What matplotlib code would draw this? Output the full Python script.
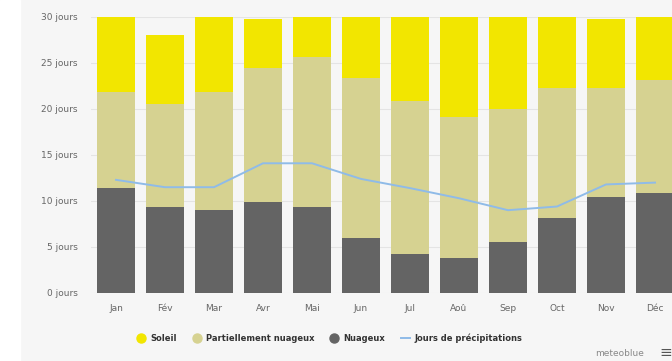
import numpy as np
import matplotlib.pyplot as plt
from matplotlib.lines import Line2D
from matplotlib.patches import Rectangle

months = ["Jan", "Fév", "Mar", "Avr", "Mai", "Jun", "Jul", "Aoû", "Sep", "Oct", "Nov", "Déc"]
totals = [31, 28, 31, 29.8, 31, 30, 31, 31, 30, 31, 29.8, 31]
nuageux = [11.4, 9.4, 9.0, 9.9, 9.4, 6.0, 4.2, 3.8, 5.5, 8.2, 10.4, 10.9]
partiel_top = [21.8, 20.5, 21.8, 24.5, 25.7, 23.4, 20.9, 19.1, 20.0, 22.3, 22.3, 23.2]
precip = [12.3, 11.5, 11.5, 14.1, 14.1, 12.4, 11.4, 10.3, 9.0, 9.4, 11.8, 12.0]
y_ticks = [0, 5, 10, 15, 20, 25, 30]

partiel = np.array(partiel_top) - np.array(nuageux)
soleil = np.array(totals) - np.array(partiel_top)

c_sun = "#f2e600"
c_part = "#d6d291"
c_cloud = "#646464"
c_line = "#8fbbe8"

fig = plt.figure(figsize=(6.72, 3.61), dpi=100, facecolor="#f6f6f6")
fig.patches.append(Rectangle((0, 0), 20 / 672, 1, transform=fig.transFigure,
                             color="white", zorder=0))
ax = fig.add_axes([91.5 / 672, 68 / 361, 588 / 672, 276 / 361])
ax.set_facecolor("#f6f6f6")

x = np.arange(len(months))
w = 0.78
ax.bar(x, nuageux, w, color=c_cloud, zorder=2)
ax.bar(x, partiel, w, bottom=nuageux, color=c_part, zorder=2)
ax.bar(x, soleil, w, bottom=partiel_top, color=c_sun, zorder=2)
ax.plot(x, precip, color=c_line, lw=1.4, zorder=3)

ax.set_xlim(-0.5, 11.5)
ax.set_ylim(0, 30)
ax.set_yticks(y_ticks)
ax.set_yticklabels([f"{v} jours" for v in y_ticks])
ax.set_xticks(x)
ax.set_xticklabels(months)
ax.tick_params(axis="y", length=0, pad=10, labelsize=6.5, labelcolor="#666666")
ax.tick_params(axis="x", length=0, pad=8, labelsize=6.5, labelcolor="#666666")
ax.grid(axis="y", color="#e4e4e4", lw=0.8, zorder=0)
for s in ax.spines.values():
    s.set_visible(False)

handles = [
    Line2D([], [], marker="o", ls="", color=c_sun, markersize=6.5),
    Line2D([], [], marker="o", ls="", color=c_part, markersize=6.5),
    Line2D([], [], marker="o", ls="", color=c_cloud, markersize=6.5),
    Line2D([], [], color=c_line, lw=1.4),
]
labels = ["Soleil", "Partiellement nuageux", "Nuageux", "Jours de précipitations"]
fig.legend(handles, labels, loc="center", bbox_to_anchor=(0.49, 0.062), ncol=4,
           frameon=False, handlelength=1.1, handletextpad=0.5, columnspacing=1.9,
           prop={"size": 6, "weight": "bold"}, labelcolor="#333333")

fig.text(0.958, 0.022, "meteoblue", ha="right", va="center", fontsize=6.5, color="#888888")
fig.text(0.99, 0.024, "≡", ha="center", va="center", fontsize=11, color="#555555")

fig.savefig("out.png", dpi=100, facecolor=fig.get_facecolor())
